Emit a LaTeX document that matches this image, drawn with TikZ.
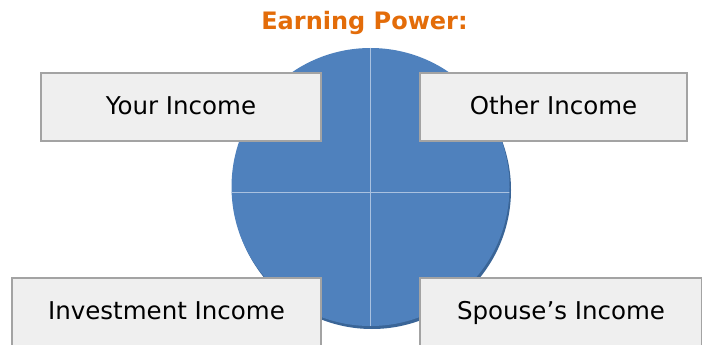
\documentclass[tikz,border=0pt]{standalone}
\usepackage{fontspec}
\setmainfont{DejaVu Sans}
\definecolor{pieblue}{HTML}{4F81BD}
\definecolor{pieshade}{HTML}{3A6597}
\definecolor{pieline}{HTML}{A9C1E0}
\definecolor{boxfill}{HTML}{EFEFEF}
\definecolor{boxline}{HTML}{A3A3A3}
\definecolor{titleorange}{HTML}{E36C09}
\begin{document}
\begin{tikzpicture}[x=1pt,y=-1pt,
  incomebox/.style={draw=boxline, line width=2pt, fill=boxfill, inner sep=0pt,
    minimum height=68pt, text height=18pt, text depth=3pt,
    font=\fontsize{24.5}{28}\selectfont, text=black},
  titletext/.style={font=\fontsize{24}{28}\selectfont\bfseries, text=titleorange, inner sep=0pt}]
\useasboundingbox (0,0) rectangle (702,345);
% pie
\fill[pieshade] (372,190) circle (139);
\fill[pieblue] (370.5,187) circle (139);
\begin{scope}
  \clip (370.5,187) circle (139);
  \draw[pieline, line width=1pt] (370.7,40) -- (370.7,340);
  \draw[pieline, line width=1pt] (225,192.5) -- (515,192.5);
\end{scope}
% title
\node[titletext, anchor=base] (title) at (364.5,30) {Earning Power:};
% boxes
\node[incomebox, minimum width=280pt] (your) at (181,107) {Your Income};
\node[incomebox, minimum width=267pt] (other) at (553.5,107) {Other Income};
\node[incomebox, minimum width=309pt] (invest) at (166.5,312) {Investment Income};
\node[incomebox, minimum width=282pt] (spouse) at (561,312) {Spouse’s Income};
\end{tikzpicture}
\end{document}
